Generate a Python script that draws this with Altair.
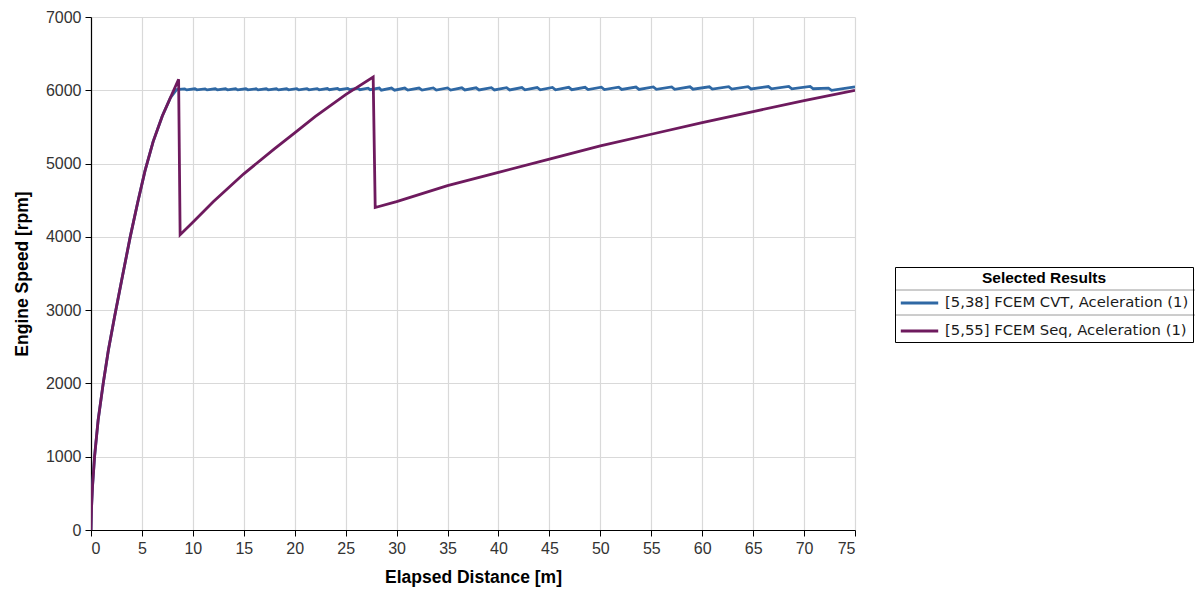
import altair as alt
import pandas as pd

# ---- data ----
cvt_x = [0, 0.05, 0.15, 0.35, 0.7, 1.2, 1.7, 2.3, 3.0, 3.85, 4.6, 5.3, 6.1, 7.0, 7.8, 8.4,
         9.2, 9.4, 10.2, 10.4, 11.2, 11.4, 12.2, 12.4, 13.2, 13.4, 14.2, 14.4, 15.2, 15.4,
         16.2, 16.4, 17.2, 17.4, 18.2, 18.4, 19.2, 19.4, 20.2, 20.4, 21.2, 21.4, 22.2, 22.4,
         23.2, 23.4, 24.2, 24.4, 25.2, 25.4, 26.2, 26.4, 27.2, 27.4, 28.3, 28.5,
         29.5, 29.8, 30.8, 31.1, 32.2, 32.5, 33.6, 33.9, 35.0, 35.3, 36.4, 36.7, 37.8, 38.1,
         39.3, 39.6, 40.8, 41.1, 42.3, 42.6, 43.8, 44.1, 45.3, 45.6, 46.9, 47.2, 48.5, 48.8,
         50.1, 50.4, 51.8, 52.1, 53.5, 53.8, 55.2, 55.5, 57.0, 57.3, 58.8, 59.1, 60.7, 61.0,
         62.6, 62.9, 64.5, 64.8, 66.5, 66.8, 68.5, 68.8, 70.6, 70.9, 72.4, 72.7, 75.0]
cvt_y = [0, 300, 600, 1000, 1500, 2000, 2450, 2900, 3400, 4000, 4480, 4900, 5300, 5650, 5900, 6010,
         6018, 6005, 6020, 6006, 6019, 6005, 6020, 6006, 6021, 6006, 6020, 6005, 6021, 6006,
         6020, 6005, 6021, 6006, 6020, 6005, 6021, 6006, 6022, 6006, 6022, 6007, 6023, 6007,
         6024, 6008, 6025, 6008, 6026, 6008, 6027, 6008, 6028, 6008, 6030, 6002,
         6030, 6002, 6031, 6002, 6031, 6003, 6032, 6003, 6033, 6003, 6034, 6004, 6034, 6004,
         6035, 6005, 6036, 6005, 6037, 6006, 6038, 6006, 6039, 6007, 6040, 6008, 6041, 6009,
         6042, 6010, 6043, 6011, 6044, 6012, 6045, 6013, 6046, 6014, 6047, 6015, 6048, 6016,
         6049, 6017, 6050, 6018, 6051, 6019, 6052, 6020, 6053, 6021, 6030, 6000, 6048]

seq_x = [0, 0.05, 0.15, 0.35, 0.7, 1.2, 1.7, 2.3, 3.0, 3.85, 4.6, 5.3, 6.1, 7.0, 7.8, 8.6, 8.75,
         10, 12, 15, 18, 20, 22, 25, 27.7, 27.9,
         30, 35, 40, 45, 50, 55, 60, 65, 70, 75]
seq_y = [0, 300, 600, 1000, 1500, 2000, 2450, 2900, 3400, 4000, 4480, 4900, 5300, 5650, 5900, 6150, 4030,
         4200, 4480, 4860, 5200, 5420, 5640, 5940, 6180, 4400,
         4480, 4700, 4880, 5060, 5240, 5400, 5560, 5710, 5860, 6000]

series_names = ["[5,38] FCEM CVT, Aceleration (1)", "[5,55] FCEM Seq, Aceleration (1)"]
series_colors = ["#2f68a4", "#6e1a5e"]

x_ticks = list(range(0, 80, 5))
y_ticks = list(range(0, 8000, 1000))

rows = []
for i, (xv, yv) in enumerate(zip(cvt_x, cvt_y)):
    rows.append({"dist": xv, "rpm": yv, "series": series_names[0], "order": i})
for i, (xv, yv) in enumerate(zip(seq_x, seq_y)):
    rows.append({"dist": xv, "rpm": yv, "series": series_names[1], "order": i})
df = pd.DataFrame(rows)

FONT = "Liberation Sans"

lines = alt.Chart(df).mark_line(strokeWidth=2.8, clip=True).encode(
    x=alt.X("dist:Q", scale=alt.Scale(domain=[0, 75], nice=False, zero=False),
            axis=alt.Axis(title="Elapsed Distance [m]", values=x_ticks, format="d")),
    y=alt.Y("rpm:Q", scale=alt.Scale(domain=[0, 7000], nice=False),
            axis=alt.Axis(title="Engine Speed [rpm]", values=y_ticks, format="d")),
    color=alt.Color("series:N",
                    scale=alt.Scale(domain=series_names, range=series_colors),
                    legend=alt.Legend(title="Selected Results", orient="none",
                                      legendX=804, legendY=250,
                                      strokeColor="black",
                                      padding=4, titleAnchor="middle",
                                      titleFontSize=15.5, titleFontWeight="bold", titleColor="black",
                                      titleFont=FONT, labelFont="DejaVu Sans", labelLimit=400,
                                      labelFontSize=14.8, labelColor="#1a1a1a",
                                      symbolType="stroke", symbolStrokeWidth=3,
                                      symbolSize=1400, rowPadding=-2, titlePadding=-4,
                                      labelOffset=5)),
    order="order:Q",
)

# separators between legend rows (legend box decoration)
sep_y = [273, 298]
seps = alt.Chart(pd.DataFrame({"yy": sep_y})).mark_rule(color="#9a9a9a", strokeWidth=1, clip=False).encode(
    x=alt.value(804), x2=alt.value(1104),
    y=alt.Y("yy:Q", scale=None),
)

chart = alt.layer(lines, seps).properties(
    width=764, height=513,
    autosize=alt.AutoSizeParams(type="none"),
    padding={"left": 91, "top": 17, "right": 342, "bottom": 62},
).configure_view(stroke=None).configure_axis(
    labelFont=FONT, titleFont=FONT, labelFontSize=16, titleFontSize=17.5,
    titleFontWeight="bold", titleColor="black", labelColor="#333333",
    domainColor="black", tickColor="black", tickSize=6, domainWidth=1.2,
    gridColor="#d9d9d9", gridWidth=1.2,
).configure_axisX(labelPadding=4, titlePadding=12).configure_axisY(labelPadding=4, titlePadding=14)

chart.save("out.html", embed_options={"renderer": "svg", "actions": False})
